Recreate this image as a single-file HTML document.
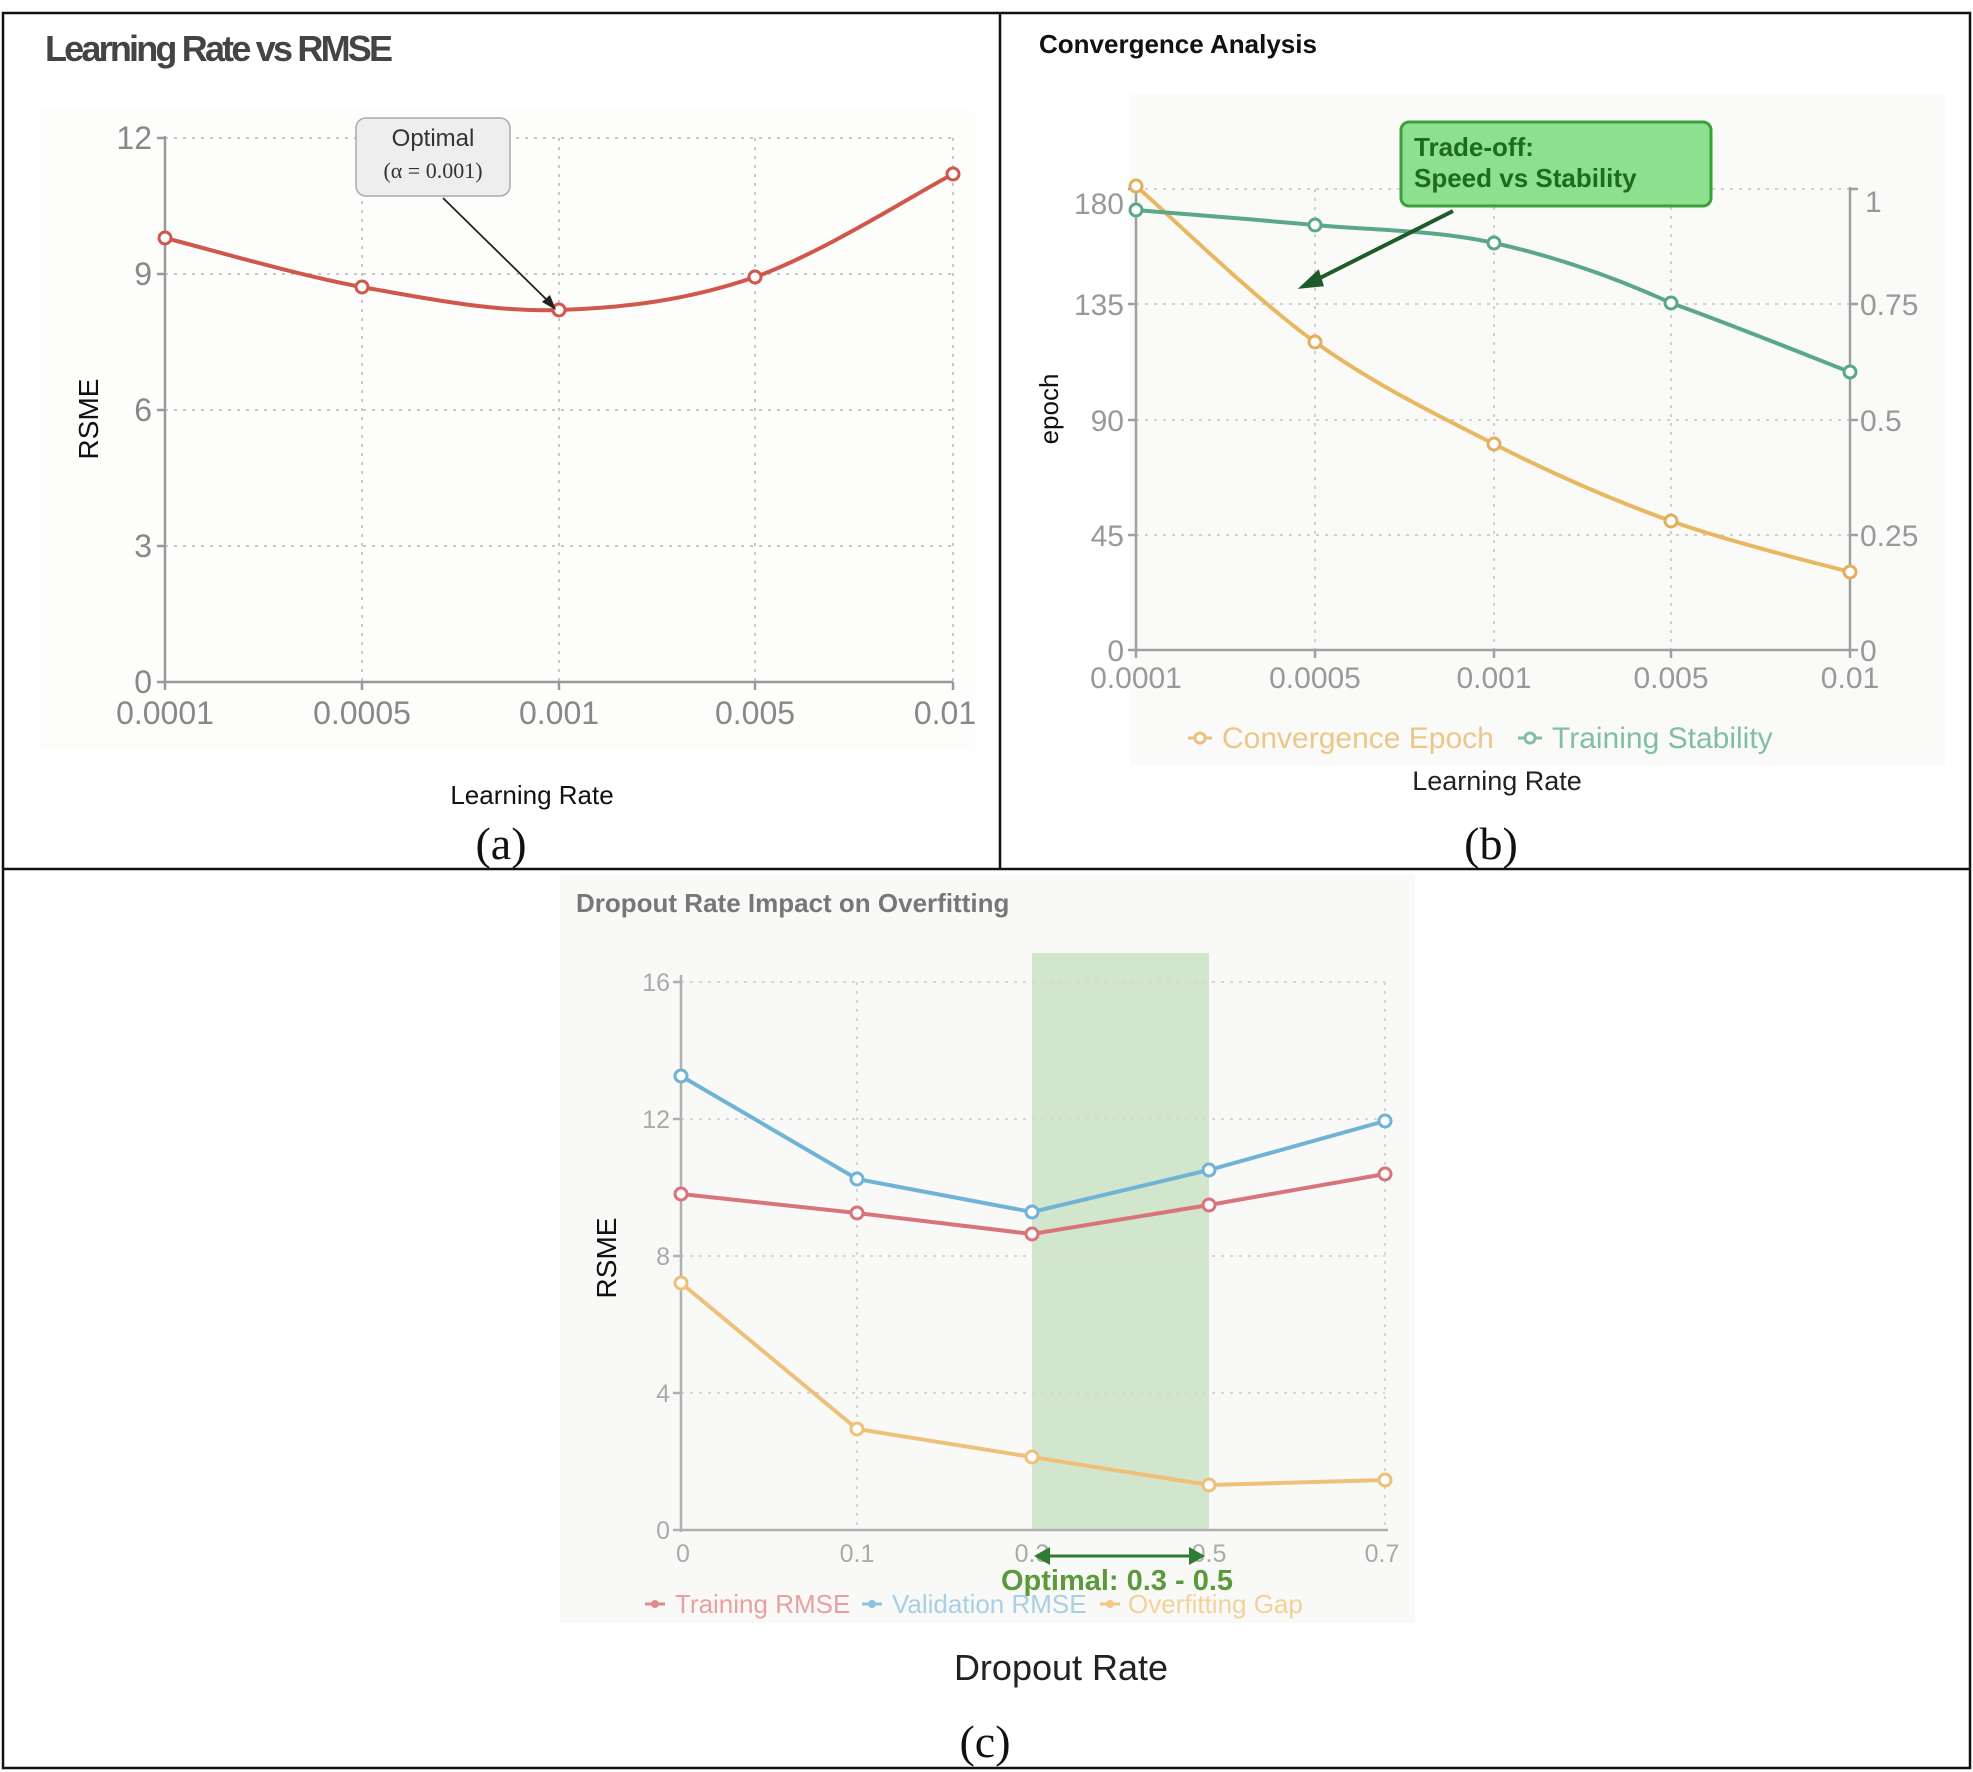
<!DOCTYPE html>
<html><head><meta charset="utf-8"><style>
html,body{margin:0;padding:0;background:#fff;}
svg{display:block;}
text{font-family:"Liberation Sans",sans-serif;}
.serif{font-family:"Liberation Serif",serif;}
</style></head><body>
<svg width="1973" height="1772" viewBox="0 0 1973 1772" xmlns="http://www.w3.org/2000/svg">
<rect x="0" y="0" width="1973" height="1772" fill="#fff"/>
<rect x="40" y="110" width="935" height="640" fill="#fdfdfb"/>
<rect x="1130" y="95" width="815" height="670" fill="#fafaf8"/>
<rect x="560" y="875" width="855" height="748" fill="#f9f9f7"/>
<g stroke="#111" stroke-width="2.5" fill="none">
<rect x="3" y="13" width="1967" height="1755"/>
<line x1="1000" y1="13" x2="1000" y2="869"/>
<line x1="3" y1="869" x2="1970" y2="869"/>
</g>

<!-- ===== (a) ===== -->
<text x="45" y="61" font-size="36" fill="#444" font-weight="bold" textLength="348">Learning Rate vs RMSE</text>
<g stroke="#c8c8c8" stroke-width="2" stroke-dasharray="3,6">
<line x1="165" y1="546" x2="953" y2="546"/><line x1="165" y1="410" x2="953" y2="410"/>
<line x1="165" y1="274" x2="953" y2="274"/><line x1="165" y1="138" x2="953" y2="138"/>
<line x1="362" y1="138" x2="362" y2="682"/><line x1="559" y1="138" x2="559" y2="682"/>
<line x1="755" y1="138" x2="755" y2="682"/><line x1="953" y1="138" x2="953" y2="682"/>
</g>
<g stroke="#999" stroke-width="2.5">
<line x1="165" y1="136" x2="165" y2="684"/><line x1="165" y1="682" x2="953" y2="682"/>
<line x1="157" y1="682" x2="165" y2="682"/><line x1="157" y1="546" x2="165" y2="546"/><line x1="157" y1="410" x2="165" y2="410"/><line x1="157" y1="274" x2="165" y2="274"/><line x1="157" y1="138" x2="165" y2="138"/>
<line x1="165" y1="682" x2="165" y2="690"/><line x1="362" y1="682" x2="362" y2="690"/><line x1="559" y1="682" x2="559" y2="690"/><line x1="755" y1="682" x2="755" y2="690"/><line x1="953" y1="682" x2="953" y2="690"/>
</g>
<g font-size="32" fill="#888" text-anchor="end">
<text x="152" y="693">0</text><text x="152" y="557">3</text><text x="152" y="421">6</text><text x="152" y="285">9</text><text x="152" y="149">12</text>
</g>
<g font-size="32" fill="#888" text-anchor="middle">
<text x="165" y="724">0.0001</text><text x="362" y="724">0.0005</text><text x="559" y="724">0.001</text><text x="755" y="724">0.005</text><text x="945" y="724">0.01</text>
</g>
<path d="M165,238 C198,246 296,275 362,287 C428,299 494,312 559,310 C624,308 689,300 755,277 C821,254 920,191 953,174" fill="none" stroke="#d0574b" stroke-width="4"/>
<g fill="#fff" stroke="#d0574b" stroke-width="3">
<circle cx="165" cy="238" r="6"/><circle cx="362" cy="287" r="6"/><circle cx="559" cy="310" r="6"/><circle cx="755" cy="277" r="6"/><circle cx="953" cy="174" r="6"/>
</g>
<rect x="356" y="118" width="154" height="78" rx="10" fill="#eeeeee" stroke="#aaa" stroke-width="1.5"/>
<text x="433" y="146" font-size="24" fill="#333" text-anchor="middle">Optimal</text>
<text x="433" y="178" font-size="22" fill="#333" text-anchor="middle" style="font-family:'Liberation Serif',serif">(α = 0.001)</text>
<line x1="443" y1="198" x2="550" y2="303" stroke="#222" stroke-width="1.8"/>
<polygon points="556,310 542,302 550,295" fill="#222"/>
<text x="0" y="0" font-size="28" fill="#111" text-anchor="middle" transform="translate(98,419) rotate(-90)">RSME</text>
<text x="532" y="804" font-size="26" fill="#111" text-anchor="middle">Learning Rate</text>
<text x="501" y="859" font-size="46" fill="#111" text-anchor="middle" style="font-family:'Liberation Serif',serif">(a)</text>

<!-- ===== (b) ===== -->
<text x="1039" y="53" font-size="26" fill="#111" font-weight="bold">Convergence Analysis</text>
<g stroke="#d0d0d0" stroke-width="2" stroke-dasharray="3,6">
<line x1="1136" y1="535" x2="1850" y2="535"/><line x1="1136" y1="420" x2="1850" y2="420"/>
<line x1="1136" y1="304" x2="1850" y2="304"/><line x1="1136" y1="189" x2="1850" y2="189"/>
<line x1="1315" y1="189" x2="1315" y2="650"/><line x1="1494" y1="189" x2="1494" y2="650"/><line x1="1671" y1="189" x2="1671" y2="650"/>
</g>
<g stroke="#a0a0a0" stroke-width="2.5">
<line x1="1136" y1="189" x2="1136" y2="652"/><line x1="1850" y1="187" x2="1850" y2="652"/><line x1="1136" y1="650" x2="1850" y2="650"/>
<line x1="1128" y1="650" x2="1136" y2="650"/><line x1="1128" y1="535" x2="1136" y2="535"/><line x1="1128" y1="420" x2="1136" y2="420"/><line x1="1128" y1="304" x2="1136" y2="304"/><line x1="1128" y1="189" x2="1136" y2="189"/>
<line x1="1850" y1="650" x2="1858" y2="650"/><line x1="1850" y1="535" x2="1858" y2="535"/><line x1="1850" y1="420" x2="1858" y2="420"/><line x1="1850" y1="304" x2="1858" y2="304"/><line x1="1850" y1="189" x2="1858" y2="189"/>
<line x1="1136" y1="650" x2="1136" y2="658"/><line x1="1315" y1="650" x2="1315" y2="658"/><line x1="1494" y1="650" x2="1494" y2="658"/><line x1="1671" y1="650" x2="1671" y2="658"/><line x1="1850" y1="650" x2="1850" y2="658"/>
</g>
<g font-size="30" fill="#999" text-anchor="end">
<text x="1124" y="661">0</text><text x="1124" y="546">45</text><text x="1124" y="431">90</text><text x="1124" y="315">135</text><text x="1124" y="214">180</text>
</g>
<g font-size="30" fill="#999">
<text x="1860" y="661">0</text><text x="1860" y="546">0.25</text><text x="1860" y="431">0.5</text><text x="1860" y="315">0.75</text><text x="1865" y="212">1</text>
</g>
<g font-size="30" fill="#999" text-anchor="middle">
<text x="1136" y="688">0.0001</text><text x="1315" y="688">0.0005</text><text x="1494" y="688">0.001</text><text x="1671" y="688">0.005</text><text x="1850" y="688">0.01</text>
</g>
<path d="M1136,186 C1166,212 1255,299 1315,342 C1375,385 1435,414 1494,444 C1553,474 1612,500 1671,521 C1730,542 1820,564 1850,572" fill="none" stroke="#e8b861" stroke-width="4"/>
<path d="M1136,210 C1166,212.5 1255,219.5 1315,225 C1375,230.5 1435,230 1494,243 C1553,256 1612,276 1671,303 C1730,324 1820,360.5 1850,372" fill="none" stroke="#5aa889" stroke-width="4"/>
<g fill="#fff" stroke="#e0b060" stroke-width="3">
<circle cx="1136" cy="186" r="6"/><circle cx="1315" cy="342" r="6"/><circle cx="1494" cy="444" r="6"/><circle cx="1671" cy="521" r="6"/><circle cx="1850" cy="572" r="6"/>
</g>
<g fill="#fff" stroke="#5aa889" stroke-width="3">
<circle cx="1136" cy="210" r="6"/><circle cx="1315" cy="225" r="6"/><circle cx="1494" cy="243" r="6"/><circle cx="1671" cy="303" r="6"/><circle cx="1850" cy="372" r="6"/>
</g>
<rect x="1401" y="122" width="310" height="84" rx="8" fill="#8de08d" stroke="#3aa03a" stroke-width="3"/>
<text x="1414" y="156" font-size="26" fill="#1d6b1d" font-weight="bold">Trade-off:</text>
<text x="1414" y="187" font-size="26" fill="#1d6b1d" font-weight="bold">Speed vs Stability</text>
<line x1="1453" y1="211" x2="1312" y2="282" stroke="#1f5a2a" stroke-width="4"/>
<polygon points="1302,287 1318,272 1322,285" fill="#1f5a2a" stroke="#1f5a2a" stroke-width="3"/>
<g font-size="30">
<line x1="1188" y1="738" x2="1212" y2="738" stroke="#e8c080" stroke-width="3"/><circle cx="1200" cy="738" r="5" fill="#fff" stroke="#e8c080" stroke-width="3"/>
<text x="1222" y="748" fill="#ebc88a">Convergence Epoch</text>
<line x1="1518" y1="738" x2="1542" y2="738" stroke="#80bfa6" stroke-width="3"/><circle cx="1530" cy="738" r="5" fill="#fff" stroke="#80bfa6" stroke-width="3"/>
<text x="1552" y="748" fill="#80bfa6">Training Stability</text>
</g>
<text x="1497" y="790" font-size="27" fill="#222" text-anchor="middle">Learning Rate</text>
<text x="0" y="0" font-size="26" fill="#111" text-anchor="middle" transform="translate(1058,409) rotate(-90)">epoch</text>
<text x="1491" y="859" font-size="46" fill="#111" text-anchor="middle" style="font-family:'Liberation Serif',serif">(b)</text>

<!-- ===== (c) ===== -->
<text x="576" y="912" font-size="26" fill="#777" font-weight="bold">Dropout Rate Impact on Overfitting</text>
<rect x="1032" y="953" width="177" height="577" fill="#d2e6ce"/>
<g stroke="#d6d6d6" stroke-width="2" stroke-dasharray="3,6">
<line x1="681" y1="1393" x2="1385" y2="1393"/><line x1="681" y1="1256" x2="1385" y2="1256"/>
<line x1="681" y1="1119" x2="1385" y2="1119"/><line x1="681" y1="982" x2="1385" y2="982"/>
<line x1="857" y1="982" x2="857" y2="1530"/><line x1="1385" y1="982" x2="1385" y2="1530"/>
</g>
<g stroke="#b0b0b0" stroke-width="2.5">
<line x1="681" y1="975" x2="681" y2="1532"/><line x1="681" y1="1530" x2="1388" y2="1530"/>
<line x1="673" y1="1530" x2="681" y2="1530"/><line x1="673" y1="1393" x2="681" y2="1393"/><line x1="673" y1="1256" x2="681" y2="1256"/><line x1="673" y1="1119" x2="681" y2="1119"/><line x1="673" y1="982" x2="681" y2="982"/>
</g>
<g font-size="25" fill="#aaa" text-anchor="end">
<text x="670" y="1539">0</text><text x="670" y="1402">4</text><text x="670" y="1265">8</text><text x="670" y="1128">12</text><text x="670" y="991">16</text>
</g>
<g font-size="25" fill="#aaa" text-anchor="middle">
<text x="683" y="1562">0</text><text x="857" y="1562">0.1</text><text x="1032" y="1562">0.3</text><text x="1209" y="1562">0.5</text><text x="1382" y="1562">0.7</text>
</g>
<polyline points="681,1076 857,1179 1032,1212 1209,1170 1385,1121" fill="none" stroke="#6fb3d6" stroke-width="4"/>
<polyline points="681,1194 857,1213 1032,1234 1209,1205 1385,1174" fill="none" stroke="#d8747a" stroke-width="4"/>
<polyline points="681,1283 857,1429 1032,1457 1209,1485 1385,1480" fill="none" stroke="#eec07a" stroke-width="4"/>
<g fill="#fff" stroke-width="3">
<g stroke="#6fb3d6"><circle cx="681" cy="1076" r="6"/><circle cx="857" cy="1179" r="6"/><circle cx="1032" cy="1212" r="6"/><circle cx="1209" cy="1170" r="6"/><circle cx="1385" cy="1121" r="6"/></g>
<g stroke="#d8747a"><circle cx="681" cy="1194" r="6"/><circle cx="857" cy="1213" r="6"/><circle cx="1032" cy="1234" r="6"/><circle cx="1209" cy="1205" r="6"/><circle cx="1385" cy="1174" r="6"/></g>
<g stroke="#eec07a"><circle cx="681" cy="1283" r="6"/><circle cx="857" cy="1429" r="6"/><circle cx="1032" cy="1457" r="6"/><circle cx="1209" cy="1485" r="6"/><circle cx="1385" cy="1480" r="6"/></g>
</g>
<line x1="1044" y1="1556" x2="1194" y2="1556" stroke="#2e7d32" stroke-width="3"/>
<polygon points="1034,1556 1050,1547 1050,1565" fill="#2e7d32"/>
<polygon points="1205,1556 1189,1547 1189,1565" fill="#2e7d32"/>
<text x="1117" y="1590" font-size="29" fill="#5a9a3a" font-weight="bold" text-anchor="middle">Optimal: 0.3 - 0.5</text>
<g font-size="26">
<line x1="645" y1="1604" x2="665" y2="1604" stroke="#e08a8a" stroke-width="3"/><circle cx="655" cy="1604" r="4" fill="#e08a8a"/>
<text x="675" y="1613" fill="#e8a0a0">Training RMSE</text>
<line x1="862" y1="1604" x2="882" y2="1604" stroke="#8cc3df" stroke-width="3"/><circle cx="872" cy="1604" r="4" fill="#8cc3df"/>
<text x="892" y="1613" fill="#a8cfe4">Validation RMSE</text>
<line x1="1100" y1="1604" x2="1120" y2="1604" stroke="#f0c888" stroke-width="3"/><circle cx="1110" cy="1604" r="4" fill="#f0c888"/>
<text x="1128" y="1613" fill="#f2d29a">Overfitting Gap</text>
</g>
<text x="1061" y="1680" font-size="36" fill="#222" text-anchor="middle">Dropout Rate</text>
<text x="0" y="0" font-size="28" fill="#111" text-anchor="middle" transform="translate(616,1258) rotate(-90)">RSME</text>
<text x="985" y="1757" font-size="46" fill="#111" text-anchor="middle" style="font-family:'Liberation Serif',serif">(c)</text>
</svg>
</body></html>
